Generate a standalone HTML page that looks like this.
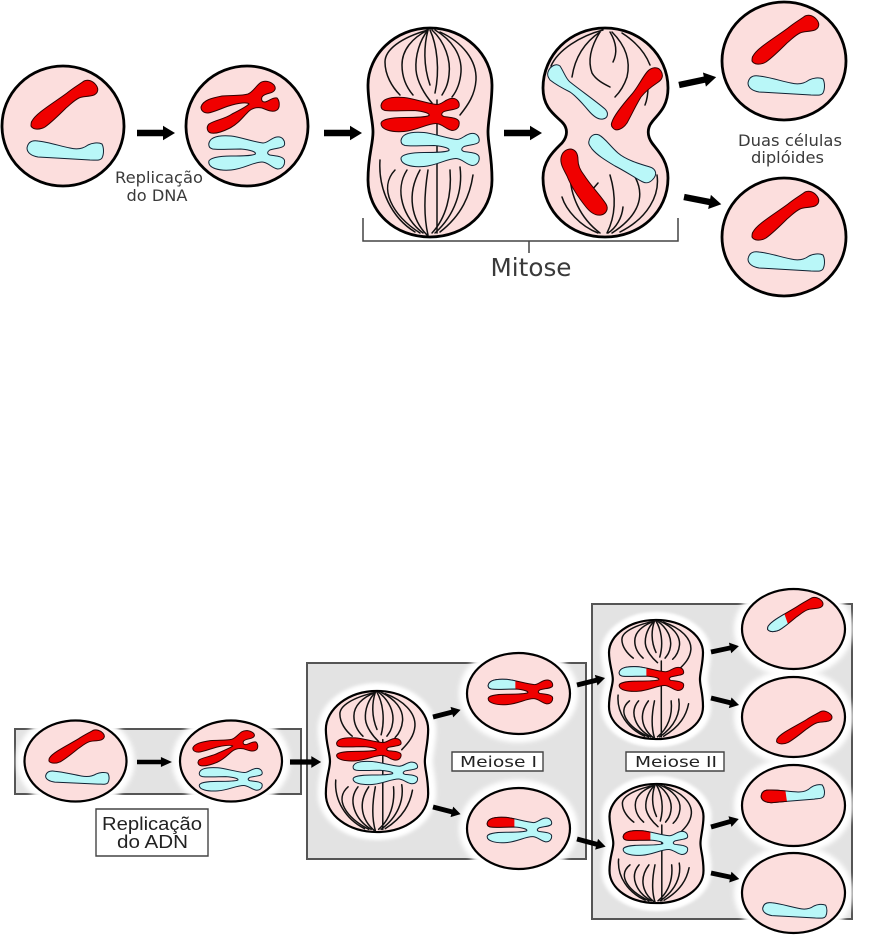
<!DOCTYPE html>
<html><head><meta charset="utf-8"><title>Mitose e Meiose</title>
<style>
html,body{margin:0;padding:0;background:#fff;width:870px;height:948px;overflow:hidden}
svg{display:block}
path,ellipse,rect,polygon{vector-effect:non-scaling-stroke}
.cell{fill:#fcdedd;stroke:#000;stroke-width:2.8}
.cellb{fill:#fcdedd;stroke:#000;stroke-width:2.2}
.fib path{fill:none;stroke:#111;stroke-width:1.5;stroke-linecap:round}
.r{fill:#f00000;stroke:#300;stroke-width:1}
.c{fill:#b9f7f8;stroke:#123;stroke-width:1}
.halo{fill:#fff;stroke:#fff;stroke-width:16;filter:url(#bl)}
.box{fill:#e3e3e3;stroke:#555;stroke-width:2}
.lab{fill:#fff;stroke:#444;stroke-width:1.4}
text{font-family:"DejaVu Sans",sans-serif;fill:#3a3a3a;text-anchor:middle}
</style></head><body>
<svg xmlns="http://www.w3.org/2000/svg" width="870" height="948" viewBox="0 0 870 948">
<defs>
<filter id="bl" x="-30%" y="-30%" width="160%" height="160%"><feGaussianBlur stdDeviation="2.5"/></filter>
<path id="a" d="M0,-3.2H26V-7.2L38,0L26,7.2V3.2H0Z" fill="#000"/>
<path id="r1" d="M32,121C36,113 55,102 67,93C73,88 80,84 84,81C88,79 93,81 96,85C99,89 98,93 94,95C88,97 83,96 79,98C73,101 70,105 66,108C60,114 52,122 45,127C40,130 33,130 31,126C31,124 31,122 32,121Z"/>
<path id="c1" d="M27,148C28,142 32,140 38,141C48,142 60,146 70,148C78,150 84,148 88,145C92,143 98,142 102,144C104,148 104,154 102,158C100,161 96,160 90,160C75,159 55,158 38,157C32,156 27,153 27,148Z"/>
<path id="r2" d="M201,107C203,100 212,98 222,96C232,95 242,96 248,94C253,92 256,86 260,83C264,80 270,81 274,85C277,89 274,92 270,93C266,94 263,95 262,97C261,100 262,102 265,102C269,101 273,97 277,98C280,101 280,108 277,110C273,113 267,110 262,108C257,107 252,108 248,112C243,117 238,124 230,128C224,131 216,134 211,133C207,132 206,127 209,124C215,120 225,119 232,114C238,111 246,107 249,104C247,102 240,103 232,105C224,107 215,112 208,113C204,113 201,111 201,107Z"/>
<path id="hx" d="M-58,-9C-57,-16 -48,-18 -35,-17C-25,-16 -12,-11 -2,-10C3,-10 6,-15 12,-16C18,-17 21,-12 20,-8C19,-5 12,-5 5,-3C2,-1 2,1 5,2C11,3 18,3 20,7C21,12 18,16 13,16C7,15 3,9 -3,9C-12,9 -22,16 -35,17C-48,18 -58,15 -58,9C-58,5 -48,3 -35,3C-25,3 -14,3 -10,1C-9,-1 -14,-3 -25,-4C-38,-4 -48,-3 -54,-4C-57,-5 -58,-6 -58,-9Z"/>
<path id="ms" d="M430,28C395,28 368,55 368,85C368,105 373,120 373,132C373,145 368,155 368,180C368,212 395,237 430,237C465,237 492,212 492,180C492,155 488,145 488,132C488,120 492,105 492,85C492,55 465,28 430,28Z"/>
<g id="msf" class="fib">
<path d="M428,30C400,38 385,50 385,62C385,75 392,87 400,95"/>
<path d="M428,30C412,38 402,50 402,65C402,78 407,88 413,95"/>
<path d="M428,30C420,40 415,55 416,70C417,82 425,95 432,103"/>
<path d="M428,30C424,45 423,65 430,85"/>
<path d="M430,30C437,45 440,70 435,93"/>
<path d="M432,30C445,42 451,60 449,75C448,85 445,90 442,95"/>
<path d="M435,30C452,40 462,55 461,72C460,85 456,92 452,97"/>
<path d="M440,32C462,42 477,60 476,80C475,95 468,105 460,115"/>
<path d="M380,160C378,190 392,218 415,232"/>
<path d="M395,170C378,188 392,215 420,233"/>
<path d="M407,170C394,190 403,218 423,233"/>
<path d="M420,170C406,195 412,220 427,235"/>
<path d="M428,170C424,195 424,218 428,235"/>
<path d="M437,100L437,233"/>
<path d="M450,170C452,195 446,218 432,233"/>
<path d="M460,167C463,190 455,215 435,233"/>
<path d="M473,175C470,195 462,215 440,232"/>
</g>
<clipPath id="tipx"><rect x="-70" y="-30" width="45" height="27"/></clipPath>
<clipPath id="tip1"><polygon points="0,60 38,60 62,140 0,140"/></clipPath>
<clipPath id="tip3"><rect x="0" y="120" width="57" height="60"/></clipPath>
<g id="mitcell"><use href="#ms" class="cell"/><use href="#msf"/></g>
<g id="mitcellb"><use href="#ms" class="cellb"/><use href="#msf"/></g>
</defs>

<!-- TOP: MITOSE -->
<ellipse class="cell" cx="63" cy="126" rx="61" ry="60"/>
<use href="#r1" class="r"/><use href="#c1" class="c"/>
<use href="#a" transform="translate(137,133)"/>
<ellipse class="cell" cx="247" cy="126" rx="61" ry="60"/>
<use href="#r2" class="r"/>
<use href="#hx" class="c" transform="translate(265,153) scale(.97,1)"/>
<use href="#a" transform="translate(324,133)"/>
<use href="#mitcell"/>
<use href="#hx" class="r" transform="translate(439,114.5)"/>
<use href="#hx" class="c" transform="translate(459,149.5)"/>
<use href="#a" transform="translate(504,133)"/>

<path class="cell" d="M605,28C570,28 543,55 543,88C543,108 555,115 562,122C568,128 568,136 562,143C555,150 543,160 543,178C543,212 570,237 605,237C640,237 668,212 668,178C668,160 657,150 652,143C647,136 647,128 652,122C657,115 668,108 668,88C668,55 640,28 605,28Z"/>
<g class="fib">
<path d="M603,30C580,36 558,50 551,66"/>
<path d="M600,32C585,42 575,57 572,77"/>
<path d="M600,32C590,48 588,62 592,73C596,80 604,84 610,87"/>
<path d="M610,32C616,42 618,52 613,62"/>
<path d="M612,32C625,45 631,60 627,77C624,86 620,92 615,97"/>
<path d="M622,33C636,42 645,52 650,65"/>
<path d="M648,87C648,94 647,100 645,105"/>
<path d="M562,197C566,210 580,226 598,233"/>
<path d="M570,173C570,195 580,218 600,233"/>
<path d="M610,175C616,195 616,215 607,233"/>
<path d="M623,207C622,218 616,228 608,233"/>
<path d="M635,177C645,195 640,215 612,233"/>
<path d="M657,175C660,195 648,218 620,232"/>
<path d="M598,183L592,190"/>
</g>
<path class="c" d="M548,72C550,66 556,63 560,66C564,72 566,79 570,82C580,90 597,102 605,109C609,113 608,118 603,119C598,120 593,116 588,110C582,103 576,96 570,92C562,88 555,84 550,80C548,77 547,75 548,72Z"/>
<path class="r" d="M612,122C614,115 625,102 632,94C638,87 642,78 647,72C651,67 658,66 661,71C664,76 662,80 657,83C651,87 645,92 641,97C636,105 632,114 627,123C623,129 616,132 613,128C611,126 611,124 612,122Z"/>
<path class="r" d="M561,158C562,152 566,149 571,149C576,150 578,154 578,160C578,165 580,170 584,175C591,186 601,196 606,204C609,209 606,214 601,215C595,216 590,212 586,207C578,197 571,186 567,176C564,170 560,164 561,158Z"/>
<path class="c" d="M589,141C590,136 594,133 599,135C605,138 610,146 618,153C626,160 640,164 650,167C656,169 657,174 654,178C651,182 647,184 643,182C635,178 625,171 615,166C605,160 597,155 592,149C590,146 588,144 589,141Z"/>

<use href="#a" transform="translate(679,85) rotate(-12)"/>
<use href="#a" transform="translate(684,197) rotate(11)"/>
<ellipse class="cell" cx="784" cy="61" rx="62" ry="59"/>
<g transform="translate(721,-65)"><use href="#r1" class="r"/><use href="#c1" class="c"/></g>
<ellipse class="cell" cx="784" cy="237" rx="62" ry="59"/>
<g transform="translate(721,111)"><use href="#r1" class="r"/><use href="#c1" class="c"/></g>

<text x="159" y="183" font-size="16" textLength="88" lengthAdjust="spacingAndGlyphs">Replicação</text>
<text x="157" y="201" font-size="16" textLength="61" lengthAdjust="spacingAndGlyphs">do DNA</text>
<text x="790" y="146" font-size="16" textLength="104" lengthAdjust="spacingAndGlyphs">Duas células</text>
<text x="787.5" y="163" font-size="16" textLength="73" lengthAdjust="spacingAndGlyphs">diplóides</text>
<path d="M363,218V241H678V218M529,241V253" fill="none" stroke="#444" stroke-width="1.5"/>
<text x="531" y="276" font-size="25" textLength="81" lengthAdjust="spacingAndGlyphs">Mitose</text>

<!-- BOTTOM: MEIOSE -->
<rect class="box" x="15" y="729" width="286" height="65"/>
<rect class="box" x="307" y="663" width="279" height="196"/>
<rect class="box" x="592" y="604" width="260" height="315"/>

<g>
<ellipse class="halo" cx="75.5" cy="761" rx="51" ry="41"/>
<ellipse class="halo" cx="231" cy="761" rx="51" ry="41"/>
<use href="#ms" class="halo" transform="translate(377,761.5) scale(.825,.675) translate(-430,-132.5)"/>
<ellipse class="halo" cx="518.5" cy="693.5" rx="51.5" ry="41"/>
<ellipse class="halo" cx="518.5" cy="828.5" rx="51.5" ry="41"/>
<use href="#ms" class="halo" transform="translate(656,679.5) scale(.758,.57) translate(-430,-132.5)"/>
<use href="#ms" class="halo" transform="translate(656.5,843.5) scale(.758,.57) translate(-430,-132.5)"/>
<ellipse class="halo" cx="793.5" cy="629" rx="51.5" ry="40"/>
<ellipse class="halo" cx="793.5" cy="717" rx="51.5" ry="40"/>
<ellipse class="halo" cx="793.5" cy="805.5" rx="51.5" ry="40.5"/>
<ellipse class="halo" cx="793.5" cy="893" rx="51.5" ry="40"/>
</g>

<ellipse class="cellb" cx="75.5" cy="761" rx="51" ry="40.5"/>
<g transform="translate(75.5,761) scale(.83,.68) translate(-63,-126)"><use href="#r1" class="r"/><use href="#c1" class="c"/></g>
<use href="#a" transform="translate(137,762) scale(.92,.7)"/>
<ellipse class="cellb" cx="231" cy="761" rx="51" ry="40.5"/>
<g transform="translate(231,761) scale(.83,.68) translate(-247,-126)"><use href="#r2" class="r"/><use href="#hx" class="c" transform="translate(265,153) scale(.97,1)"/></g>
<use href="#a" transform="translate(290,762) scale(.82)"/>

<g transform="translate(377,761.5) scale(.825,.675) translate(-430,-132.5)">
<use href="#mitcellb"/>
<use href="#hx" class="r" transform="translate(439,114.5)"/>
<use href="#hx" class="c" transform="translate(459,149.5)"/>
</g>
<use href="#a" transform="translate(433,717) rotate(-14.5) scale(.75)"/>
<use href="#a" transform="translate(433,807) rotate(14.5) scale(.75)"/>

<ellipse class="cellb" cx="518.5" cy="693.5" rx="51.5" ry="40.5"/>
<g transform="translate(536,692) scale(.825,.74)">
<use href="#hx" class="r"/><use href="#hx" class="c" clip-path="url(#tipx)"/>
</g>
<ellipse class="cellb" cx="518.5" cy="828.5" rx="51.5" ry="40.5"/>
<g transform="translate(535,830) scale(.825,.74)">
<use href="#hx" class="c"/><use href="#hx" class="r" clip-path="url(#tipx)"/>
</g>
<use href="#a" transform="translate(577,685) rotate(-14) scale(.76)"/>
<use href="#a" transform="translate(577,839) rotate(15) scale(.78)"/>

<g transform="translate(656,679.5) scale(.758,.57) translate(-430,-132.5)"><use href="#mitcellb"/></g>
<g transform="translate(667,679) scale(.825,.72)">
<use href="#hx" class="r"/><use href="#hx" class="c" clip-path="url(#tipx)"/>
</g>
<g transform="translate(656.5,843.5) scale(.758,.57) translate(-430,-132.5)"><use href="#mitcellb"/></g>
<g transform="translate(671,843) scale(.825,.72)">
<use href="#hx" class="c"/><use href="#hx" class="r" clip-path="url(#tipx)"/>
</g>
<use href="#a" transform="translate(711,652) rotate(-12) scale(.75)"/>
<use href="#a" transform="translate(711,698) rotate(14) scale(.76)"/>
<use href="#a" transform="translate(711,827) rotate(-16) scale(.76)"/>
<use href="#a" transform="translate(711,873) rotate(12) scale(.76)"/>

<ellipse class="cellb" cx="793.5" cy="629" rx="51.5" ry="40"/>
<g transform="translate(795,614) scale(.83,.7) translate(-64,-104)"><use href="#r1" class="r"/><use href="#r1" class="c" clip-path="url(#tip1)"/></g>
<ellipse class="cellb" cx="793.5" cy="717" rx="51.5" ry="40"/>
<g transform="translate(804,727) scale(.83,.67) translate(-64,-104)"><use href="#r1" class="r"/></g>
<ellipse class="cellb" cx="793.5" cy="805.5" rx="51.5" ry="40.5"/>
<g transform="translate(793,794) rotate(-8) scale(.83,.8) translate(-65.5,-150)"><use href="#c1" class="c"/><use href="#c1" class="r" clip-path="url(#tip3)"/></g>
<ellipse class="cellb" cx="793.5" cy="893" rx="51.5" ry="40"/>
<g transform="translate(795,910) scale(.84,.8) translate(-65.5,-150)"><use href="#c1" class="c"/></g>

<rect class="lab" x="96" y="809" width="112" height="47"/>
<text x="152" y="830" font-size="18" textLength="100" lengthAdjust="spacingAndGlyphs" style="font-family:'Liberation Sans',sans-serif;fill:#222">Replicação</text>
<text x="152.5" y="848" font-size="18" textLength="71" lengthAdjust="spacingAndGlyphs" style="font-family:'Liberation Sans',sans-serif;fill:#222">do ADN</text>
<rect class="lab" x="452" y="752" width="91" height="19"/>
<text x="498.5" y="767" font-size="15" textLength="77" lengthAdjust="spacingAndGlyphs" style="fill:#222">Meiose I</text>
<rect class="lab" x="626" y="752" width="98" height="19"/>
<text x="676" y="767" font-size="15" textLength="82" lengthAdjust="spacingAndGlyphs" style="fill:#222">Meiose II</text>
</svg>
</body></html>
